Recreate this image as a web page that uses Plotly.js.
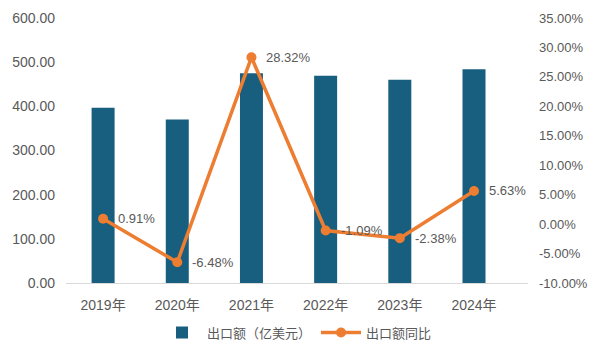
<!DOCTYPE html>
<html><head><meta charset="utf-8">
<script src="https://cdn.plot.ly/plotly-3.0.1.min.js"></script>
<style>body{margin:0}#c{width:600px;height:360px}</style>
</head><body><div id="c"></div>
<script>
var years = ['2019年','2020年','2021年','2022年','2023年','2024年'];
var exportValue = [397, 370, 475, 469, 460, 484];
var yoyGrowth = [0.91, -6.48, 28.32, -1.09, -2.38, 5.63];
var yoyLabels = ['0.91%','-6.48%','28.32%','-1.09%','-2.38%','5.63%'];
var leftTicks = [0,100,200,300,400,500,600];
var rightTicks = [-10,-5,0,5,10,15,20,25,30,35];

var fontFam = '"Liberation Sans", "Noto Sans CJK SC", sans-serif';
var cjkFam = '"Noto Sans CJK SC", sans-serif';
var gray = '#595959';
var traces = [
  {type:'bar', x: years, y: exportValue, name:'出口额（亿美元）',
   marker:{color:'#175E7F', line:{color:'#175E7F', width:0}}, width:0.31, yaxis:'y'},
  {type:'scatter', mode:'lines+markers', x: years, y: yoyGrowth, name:'出口额同比',
   yaxis:'y2', line:{color:'#ED7D31', width:3.5}, marker:{color:'#ED7D31', size:10}, cliponaxis:false}
];
var annotations = years.map(function(yr, i){
  return {x: yr, y: yoyGrowth[i], xref:'x', yref:'y2', text: yoyLabels[i], showarrow:false,
          xanchor:'left', yanchor:'middle', xshift:13, font:{size:13, color:gray, family:fontFam}};
});
var layout = {
  width:600, height:360,
  margin:{l:66, r:72, t:18, b:74},
  paper_bgcolor:'#fff', plot_bgcolor:'#fff',
  font:{family:fontFam, color:gray, size:13},
  showlegend:true,
  legend:{orientation:'h', x:0.5, xanchor:'center', y:-0.187, yanchor:'middle',
          font:{size:13, color:gray, family:cjkFam}, itemwidth:40, tracegroupgap:20},
  annotations: annotations,
  xaxis:{showline:true, linecolor:'#D9D9D9', linewidth:1, ticks:'', automargin:false,
         ticklabelstandoff:9, tickfont:{size:14, color:gray, family:fontFam}},
  yaxis:{range:[0,600], tickvals:leftTicks, ticktext:leftTicks.map(function(v){return v.toFixed(2);}),
         showgrid:false, zeroline:false, showline:false, ticks:'', automargin:false, ticklabelstandoff:10,
         tickfont:{size:14,color:gray}},
  yaxis2:{range:[-10,35], overlaying:'y', side:'right', tickvals:rightTicks,
         ticktext:rightTicks.map(function(v){return v.toFixed(2)+'%';}), automargin:false, ticklabelstandoff:10,
         showgrid:false, zeroline:false, showline:false, ticks:'', tickfont:{size:13,color:gray}}
};
Plotly.newPlot('c', traces, layout, {displayModeBar:false, staticPlot:true});
</script></body></html>
